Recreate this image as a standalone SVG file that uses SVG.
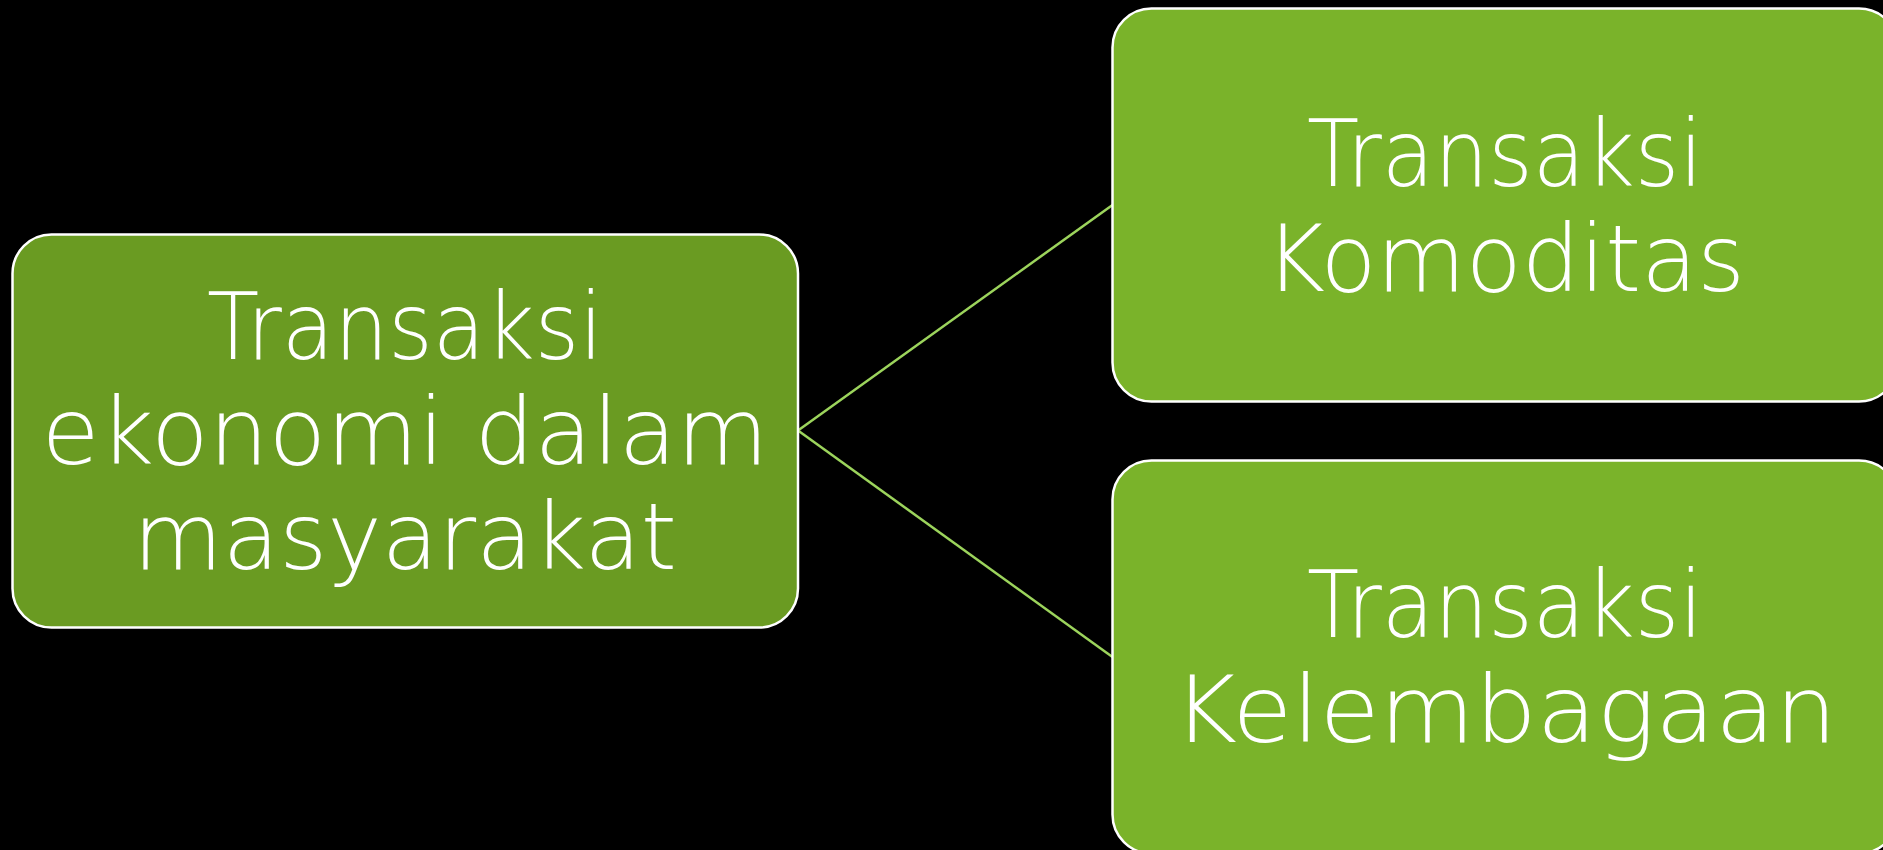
<svg xmlns="http://www.w3.org/2000/svg" width="1883" height="850" viewBox="0 0 1883 850">
<style>
.box{stroke:#FFFFFF;stroke-width:2.5}
.l{fill:#6A9B22}
.r{fill:#7AB32A}
.t{font-family:"DejaVu Sans","Liberation Sans",sans-serif;font-weight:200;font-size:92px;fill:#FFFFFF;text-anchor:middle}
.c{stroke:#9CD45C;stroke-width:2.5;fill:none}
</style>
<rect width="1883" height="850" fill="#000000"/>
<g id="connectors">
<line class="c" x1="798" y1="430.5" x2="1112.5" y2="205"/>
<line class="c" x1="798" y1="430.5" x2="1112.5" y2="657"/>
</g>
<g id="node-main">
<rect class="box l" x="12.5" y="234.5" width="785.5" height="393" rx="39"/>
<text class="t" x="405" y="359" textLength="396" lengthAdjust="spacingAndGlyphs">Transaksi</text>
<text class="t" x="405" y="464" textLength="727" lengthAdjust="spacingAndGlyphs">ekonomi dalam</text>
<text class="t" x="405" y="569" textLength="544" lengthAdjust="spacingAndGlyphs">masyarakat</text>
</g>
<g id="node-komoditas">
<rect class="box r" x="1112.5" y="8.5" width="785.5" height="393" rx="39"/>
<text class="t" x="1505" y="186" textLength="396" lengthAdjust="spacingAndGlyphs">Transaksi</text>
<text class="t" x="1505" y="291" textLength="480" lengthAdjust="spacingAndGlyphs">Komoditas</text>
</g>
<g id="node-kelembagaan">
<rect class="box r" x="1112.5" y="460.5" width="785.5" height="393" rx="39"/>
<text class="t" x="1505" y="637" textLength="396" lengthAdjust="spacingAndGlyphs">Transaksi</text>
<text class="t" x="1505" y="742" textLength="664" lengthAdjust="spacingAndGlyphs">Kelembagaan</text>
</g>
</svg>
